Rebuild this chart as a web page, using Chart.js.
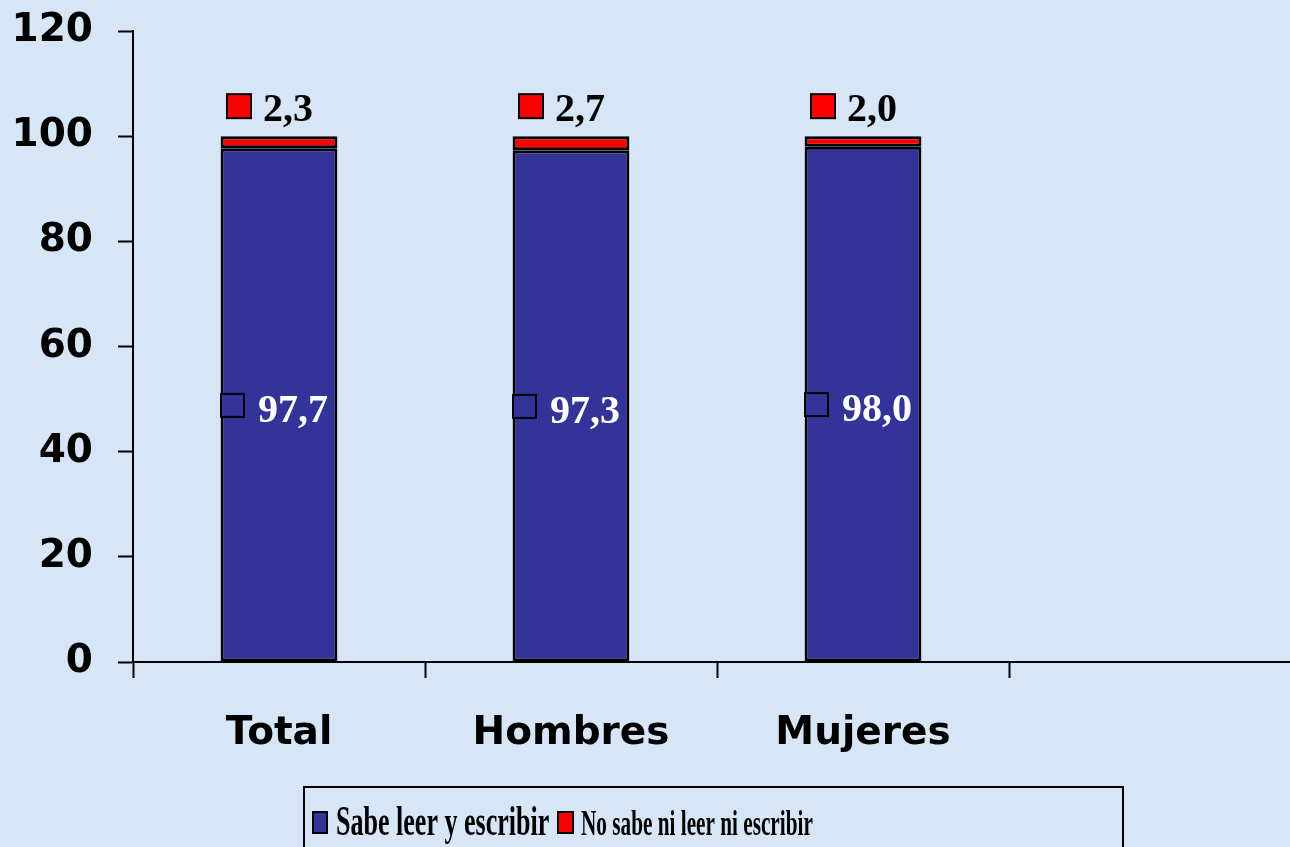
<!DOCTYPE html>
<html>
<head>
<meta charset="utf-8">
<script src="https://cdn.jsdelivr.net/npm/chart.js@4.4.1/dist/chart.umd.min.js"></script>
<style>
  html, body { margin: 0; padding: 0; overflow: hidden; background: #d6e6f7; }
  #wrap { width: 1301px; height: 847px; position: relative; }
</style>
</head>
<body>
<div id="wrap"><canvas id="chart"></canvas></div>
<script>
// categories and values
var categorias = ['Total', 'Hombres', 'Mujeres', ''];
var sabeLeer = [97.7, 97.3, 98.0, null];
var noSabeLeer = [2.3, 2.7, 2.0, null];
var yTicks = [0, 20, 40, 60, 80, 100, 120];

var azul = '#333399';
var rojo = '#ff0000';

function fmt(v) {
    return v.toFixed(1).replace('.', ',');
}

// labels on bars + legend box
var labelPlugin = {
    id: 'valueLabels',
    afterDatasetsDraw: function (chart) {
        var ctx = chart.ctx;
        ctx.save();
        ctx.font = 'bold 40px "Liberation Serif"';
        ctx.textBaseline = 'alphabetic';
        ctx.lineWidth = 2;
        ctx.strokeStyle = '#000';

        chart.getDatasetMeta(0).data.forEach(function (bar, i) {
            if (sabeLeer[i] == null) return;
            var cy = (bar.y + bar.base) / 2;
            ctx.fillStyle = azul;
            ctx.fillRect(bar.x - 58, cy - 11, 23, 23);
            ctx.strokeRect(bar.x - 58, cy - 11, 23, 23);
            ctx.fillStyle = '#fff';
            ctx.fillText(fmt(sabeLeer[i]), bar.x - 21, cy + 17);
        });

        chart.getDatasetMeta(1).data.forEach(function (bar, i) {
            if (noSabeLeer[i] == null) return;
            var top = bar.y;
            ctx.fillStyle = rojo;
            ctx.fillRect(bar.x - 52, top - 42, 24, 24);
            ctx.strokeRect(bar.x - 52, top - 42, 24, 24);
            ctx.fillStyle = '#000';
            ctx.fillText(fmt(noSabeLeer[i]), bar.x - 16, top - 15);
        });
        ctx.restore();
    },
    afterDraw: function (chart) {
        var ctx = chart.ctx;
        ctx.save();
        ctx.lineWidth = 2;
        ctx.strokeStyle = '#000';
        ctx.strokeRect(304, 787, 819, 80);

        ctx.fillStyle = azul;
        ctx.fillRect(313, 812, 14, 21);
        ctx.strokeRect(313, 812, 14, 21);
        ctx.fillStyle = '#000';
        ctx.save();
        ctx.translate(336, 835);
        ctx.scale(0.62, 1);
        ctx.font = 'bold 42px "Liberation Serif"';
        ctx.fillText('Sabe leer y escribir', 0, 0);
        ctx.restore();

        ctx.fillStyle = rojo;
        ctx.fillRect(558, 812, 15, 21);
        ctx.strokeRect(558, 812, 15, 21);
        ctx.fillStyle = '#000';
        ctx.save();
        ctx.translate(581, 835);
        ctx.scale(0.59, 1);
        ctx.font = 'bold 36px "Liberation Serif"';
        ctx.fillText('No sabe ni leer ni escribir', 0, 0);
        ctx.restore();
        ctx.restore();
    }
};

var ctx = document.getElementById('chart').getContext('2d');
var chart = new Chart(ctx, {
    type: 'bar',
    data: {
        labels: categorias,
        datasets: [{
            label: 'Sabe leer y escribir',
            data: sabeLeer,
            backgroundColor: azul,
            borderColor: '#000',
            borderWidth: 3,
            borderSkipped: false
        }, {
            label: 'No sabe ni leer ni escribir',
            data: noSabeLeer,
            backgroundColor: rojo,
            borderColor: '#000',
            borderWidth: 3,
            borderSkipped: false
        }]
    },
    options: {
        responsive: true,
        maintainAspectRatio: false,
        animation: false,
        layout: { padding: 0 },
        datasets: { bar: { categoryPercentage: 1, barPercentage: 0.4 } },
        plugins: {
            legend: { display: false },
            tooltip: { enabled: false }
        },
        scales: {
            x: {
                stacked: true,
                grid: { drawOnChartArea: false, offset: true, tickLength: 16, tickColor: '#000', tickWidth: 2 },
                border: { color: '#000', width: 2 },
                ticks: {
                    color: '#000',
                    padding: 32,
                    font: { family: 'DejaVu Sans', weight: 'bold', size: 39 }
                },
                afterFit: function (s) { s.height = 185; }
            },
            y: {
                stacked: true,
                min: yTicks[0],
                max: yTicks[yTicks.length - 1],
                afterBuildTicks: function (s) {
                    s.ticks = yTicks.map(function (v) { return { value: v }; });
                },
                grid: { drawOnChartArea: false, tickLength: 15, tickColor: '#000', tickWidth: 2 },
                border: { color: '#000', width: 2 },
                ticks: {
                    color: '#000',
                    padding: 25,
                    font: { family: 'DejaVu Sans', weight: 'bold', size: 39 }
                },
                afterFit: function (s) {
                    s.width = 133;
                    s.paddingTop = 31;
                    s.paddingBottom = 0;
                }
            }
        }
    },
    plugins: [labelPlugin]
});
</script>
</body>
</html>
